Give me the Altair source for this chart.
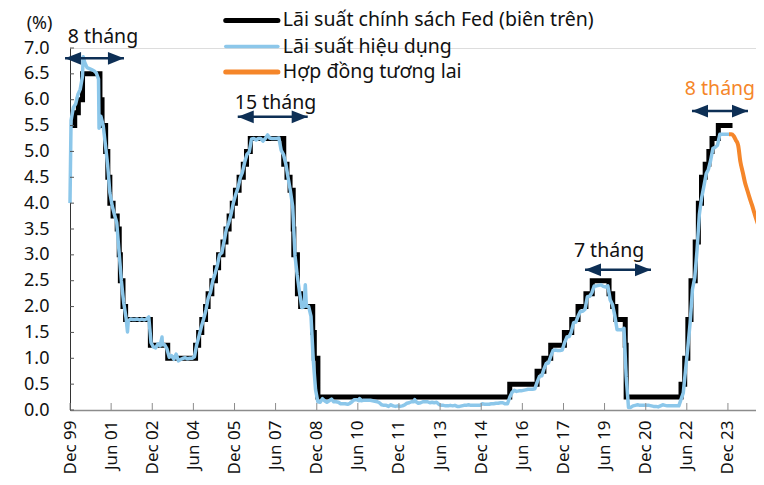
import altair as alt
import pandas as pd

SERIES = ["Lãi suất chính sách Fed (biên trên)", "Lãi suất hiệu dụng", "Hợp đồng tương lai"]
COLORS = ["#000000", "#8cc7ea", "#f5862a"]
NAVY = "#0d2f55"
FONT = "Noto Sans"

# Fed policy rate (upper bound) – change dates and new levels
policy_dates = [
    "1999-12-01", "2000-02-02", "2000-03-21", "2000-05-16", "2001-01-03", "2001-01-31",
    "2001-03-20", "2001-04-18", "2001-05-15", "2001-06-27", "2001-08-21", "2001-09-17",
    "2001-10-02", "2001-11-06", "2001-12-11", "2002-11-06", "2003-06-25", "2004-06-30",
    "2004-08-10", "2004-09-21", "2004-11-10", "2004-12-14", "2005-02-02", "2005-03-22",
    "2005-05-03", "2005-06-30", "2005-08-09", "2005-09-20", "2005-11-01", "2005-12-13",
    "2006-01-31", "2006-03-28", "2006-05-10", "2006-06-29", "2007-09-18", "2007-10-31",
    "2007-12-11", "2008-01-22", "2008-01-30", "2008-03-18", "2008-04-30", "2008-10-08",
    "2008-10-29", "2008-12-16", "2015-12-16", "2016-12-14", "2017-03-15", "2017-06-14",
    "2017-12-13", "2018-03-21", "2018-06-13", "2018-09-26", "2018-12-19", "2019-07-31",
    "2019-09-18", "2019-10-30", "2020-03-03", "2020-03-15", "2022-03-16", "2022-05-04",
    "2022-06-15", "2022-07-27", "2022-09-21", "2022-11-02", "2022-12-14", "2023-02-01",
    "2023-03-22", "2023-05-03", "2023-07-26", "2024-01-31",
]
policy_values = [
    5.50, 5.75, 6.00, 6.50, 6.00, 5.50,
    5.00, 4.50, 4.00, 3.75, 3.50, 3.00,
    2.50, 2.00, 1.75, 1.25, 1.00, 1.25,
    1.50, 1.75, 2.00, 2.25, 2.50, 2.75,
    3.00, 3.25, 3.50, 3.75, 4.00, 4.25,
    4.50, 4.75, 5.00, 5.25, 4.75, 4.50,
    4.25, 3.50, 3.00, 2.25, 2.00, 1.50,
    1.00, 0.25, 0.50, 0.75, 1.00, 1.25,
    1.50, 1.75, 2.00, 2.25, 2.50, 2.25,
    2.00, 1.75, 1.25, 0.25, 0.50, 1.00,
    1.75, 2.50, 3.25, 4.00, 4.50, 4.75,
    5.00, 5.25, 5.50, 5.50,
]

# Effective rate, monthly (mid-month) from Dec 1999 to Dec 2023
eff_first_month = "1999-12-01"
eff_monthly = [
    5.60,
    5.85, 5.92, 6.10, 6.20, 6.45, 6.72, 6.62, 6.60, 6.58, 6.56, 6.52, 6.40,
    5.68, 5.50, 5.15, 4.75, 4.20, 3.95, 3.78, 3.62, 3.05, 2.50, 2.08, 1.80,
    1.72, 1.76, 1.75, 1.75, 1.76, 1.74, 1.76, 1.74, 1.76, 1.80, 1.30, 1.22,
    1.20, 1.28, 1.24, 1.26, 1.26, 1.18, 1.02, 1.05, 0.98, 1.08, 0.95, 0.98,
    1.00, 1.01, 0.99, 1.00, 1.00, 1.03, 1.26, 1.43, 1.61, 1.76, 1.93, 2.16,
    2.28, 2.50, 2.63, 2.79, 3.00, 3.04, 3.26, 3.50, 3.62, 3.78, 4.00, 4.16,
    4.29, 4.49, 4.59, 4.79, 4.94, 4.99, 5.24, 5.25, 5.22, 5.25, 5.25, 5.20,
    5.25, 5.32, 5.26, 5.25, 5.25, 5.25, 5.26, 5.02, 4.94, 4.76, 4.49, 4.24,
    3.94, 2.98, 2.61, 2.28, 1.98, 2.00, 2.01, 2.00, 1.81, 0.97, 0.39, 0.16,
    0.15, 0.22, 0.18, 0.15, 0.18, 0.21, 0.16, 0.16, 0.15, 0.12, 0.12, 0.12,
    0.11, 0.13, 0.16, 0.20, 0.20, 0.18, 0.18, 0.19, 0.19, 0.19, 0.19, 0.18,
    0.17, 0.16, 0.14, 0.10, 0.09, 0.09, 0.07, 0.10, 0.08, 0.07, 0.08, 0.07,
    0.08, 0.10, 0.13, 0.14, 0.16, 0.16, 0.16, 0.13, 0.14, 0.16, 0.16, 0.16,
    0.14, 0.15, 0.14, 0.15, 0.11, 0.09, 0.09, 0.08, 0.08, 0.09, 0.08, 0.09,
    0.07, 0.07, 0.08, 0.09, 0.09, 0.10, 0.09, 0.09, 0.09, 0.09, 0.09, 0.12,
    0.11, 0.11, 0.11, 0.12, 0.12, 0.13, 0.13, 0.14, 0.14, 0.12, 0.12, 0.24,
    0.34, 0.38, 0.36, 0.37, 0.37, 0.38, 0.39, 0.40, 0.40, 0.40, 0.41, 0.54,
    0.65, 0.66, 0.79, 0.90, 0.91, 1.04, 1.15, 1.16, 1.15, 1.15, 1.16, 1.30,
    1.41, 1.42, 1.51, 1.69, 1.70, 1.82, 1.91, 1.91, 1.95, 2.19, 2.20, 2.27,
    2.40, 2.40, 2.41, 2.42, 2.39, 2.38, 2.40, 2.13, 2.04, 1.83, 1.55, 1.55,
    1.55, 1.58, 0.65, 0.05, 0.05, 0.08, 0.09, 0.10, 0.09, 0.09, 0.09, 0.09,
    0.09, 0.08, 0.07, 0.07, 0.06, 0.08, 0.10, 0.09, 0.08, 0.08, 0.08, 0.08,
    0.08, 0.08, 0.20, 0.33, 0.77, 1.21, 1.68, 2.33, 2.56, 3.08, 3.78, 4.10,
    4.33, 4.57, 4.65, 4.83, 5.06, 5.08, 5.12, 5.33, 5.33, 5.33, 5.33, 5.33,
]
# visible spikes / dips in the effective rate
eff_extra_dates = ["1999-12-01", "2000-05-25", "2000-12-22", "2002-01-05", "2003-04-10",
                   "2008-07-01", "2010-06-25", "2012-06-28"]
eff_extra_values = [4.00, 6.83, 5.45, 1.51, 1.41, 2.42, 0.22, 0.20]

# Futures-implied path
fut_dates = ["2023-12-15", "2024-01-15", "2024-02-15", "2024-03-15", "2024-04-15",
             "2024-05-15", "2024-06-15", "2024-07-15", "2024-08-15", "2024-09-15",
             "2024-10-15", "2024-11-15", "2024-12-15", "2025-01-15"]
fut_values = [5.33, 5.33, 5.30, 5.22, 5.12, 4.80, 4.60, 4.40, 4.25, 4.10, 3.97, 3.82, 3.68, 3.55]

# Axis ticks
x_tick_dates = ["1999-12-01", "2001-06-01", "2002-12-01", "2004-06-01", "2005-12-01",
                "2007-06-01", "2008-12-01", "2010-06-01", "2011-12-01", "2013-06-01",
                "2014-12-01", "2016-06-01", "2017-12-01", "2019-06-01", "2020-12-01",
                "2022-06-01", "2023-12-01"]
y_tick_values = [0.0, 0.5, 1.0, 1.5, 2.0, 2.5, 3.0, 3.5, 4.0, 4.5, 5.0, 5.5, 6.0, 6.5, 7.0]

# Annotations ("n tháng" double arrows)
arrow_start = ["1999-09-26", "2006-01-13", "2018-09-14", "2022-08-09"]
arrow_end = ["2001-11-19", "2008-08-02", "2021-02-09", "2024-08-24"]
arrow_level = [6.80, 5.67, 2.71, 5.78]
note_text = ["8 tháng", "15 tháng", "7 tháng", "8 tháng"]
note_date = ["2001-02-13", "2007-05-31", "2019-07-31", "2023-08-17"]
note_level = [7.21, 5.94, 3.07, 6.21]
note_color = ["#111111", "#111111", "#111111", "#f5862a"]

# Legend (drawn in the top area of the plot)
legend_level = [7.532, 7.029, 6.536]
legend_sym_start = "2005-08-06"
legend_sym_end = "2007-07-02"
legend_text_date = "2007-09-06"
legend_stroke = [5, 3.5, 5]

# ---------------------------------------------------------------- data frames
policy_df = pd.DataFrame({"date": pd.to_datetime(policy_dates), "value": policy_values,
                          "series": SERIES[0]})
eff_month_dates = pd.date_range(eff_first_month, periods=len(eff_monthly), freq="MS") + pd.Timedelta(days=14)
eff_df = pd.concat([
    pd.DataFrame({"date": eff_month_dates, "value": eff_monthly}),
    pd.DataFrame({"date": pd.to_datetime(eff_extra_dates), "value": eff_extra_values}),
]).sort_values("date").reset_index(drop=True)
eff_df["series"] = SERIES[1]
fut_df = pd.DataFrame({"date": pd.to_datetime(fut_dates), "value": fut_values, "series": SERIES[2]})

xt_df = pd.DataFrame({"date": pd.to_datetime(x_tick_dates)})
yt_df = pd.DataFrame({"value": y_tick_values})
arrow_df = pd.DataFrame({"date": pd.to_datetime(arrow_start), "date2": pd.to_datetime(arrow_end),
                         "value": arrow_level})
note_df = pd.DataFrame({"date": pd.to_datetime(note_date), "value": note_level,
                        "text": note_text, "col": note_color})
leg_df = pd.DataFrame({
    "date": pd.to_datetime([legend_sym_start] * 3),
    "date2": pd.to_datetime([legend_sym_end] * 3),
    "tdate": pd.to_datetime([legend_text_date] * 3),
    "value": legend_level, "text": SERIES, "col": COLORS, "sw": legend_stroke,
})

W, H = 686, 362

x_scale = alt.Scale(domain=[alt.DateTime(year=1999, month=12, date=1),
                            alt.DateTime(year=2024, month=12, date=9)])
y_scale = alt.Scale(domain=[0, 7])

x_axis = alt.Axis(
    values=[alt.DateTime(year=int(d[:4]), month=int(d[5:7]), date=1) for d in x_tick_dates],
    format="%b %y", labelAngle=-90, labelFont=FONT, labelFontSize=17, labelColor="#111111",
    ticks=False, labelPadding=10, domainColor="#8c8c8c", domainWidth=1.5, grid=False,
    labelOverlap=False, labelBound=False, labelFlush=False,
)
y_axis = alt.Axis(
    values=y_tick_values, format=".1f", labelFont=FONT, labelFontSize=18, labelColor="#111111",
    ticks=False, labelPadding=21, domainColor="#333333", domainWidth=1, grid=False,
    title="(%)", titleAngle=0, titleAlign="center", titleBaseline="middle",
    titleX=-31, titleY=-25, titleFont=FONT, titleFontSize=18, titleFontWeight="normal",
    titleColor="#111111",
)

X = alt.X("date:T", scale=x_scale, axis=x_axis, title=None)
Y = alt.Y("value:Q", scale=y_scale, axis=y_axis)

color = alt.Color("series:N", scale=alt.Scale(domain=SERIES, range=COLORS), legend=None)

policy_line = alt.Chart(policy_df).mark_line(interpolate="step-after", strokeWidth=5).encode(
    x=X, y=Y, color=color)
eff_line = alt.Chart(eff_df).mark_line(strokeWidth=3.5, strokeJoin="round").encode(
    x=X, y=Y, color=color)
fut_line = alt.Chart(fut_df).mark_line(strokeWidth=4, interpolate="monotone").encode(
    x=X, y=Y, color=color)

x_ticks = alt.Chart(xt_df).mark_rule(color="#8c8c8c", strokeWidth=1).encode(
    x=X, y=alt.value(H), y2=alt.value(H - 7))
y_ticks = alt.Chart(yt_df).mark_rule(color="#555555", strokeWidth=1).encode(
    y=Y, x=alt.value(0), x2=alt.value(4))

arrow_lines = alt.Chart(arrow_df).mark_rule(color=NAVY, strokeWidth=2.5).encode(
    x=X, x2="date2:T", y=Y)
head_left = alt.Chart(arrow_df).mark_point(
    shape="M0,0L2,-0.8L2,0.8Z", size=256, filled=True, color=NAVY, opacity=1, strokeWidth=0
).encode(x=X, y=Y)
head_right = alt.Chart(arrow_df).mark_point(
    shape="M0,0L-2,-0.8L-2,0.8Z", size=256, filled=True, color=NAVY, opacity=1, strokeWidth=0
).encode(x=alt.X("date2:T", scale=x_scale), y=Y)
notes = alt.Chart(note_df).mark_text(font=FONT, fontSize=19.5, baseline="middle", align="center").encode(
    x=X, y=Y, text="text:N", color=alt.Color("col:N", scale=None))

leg_sym = alt.Chart(leg_df).mark_rule(strokeCap="round").encode(
    x=X, x2="date2:T", y=Y,
    color=alt.Color("col:N", scale=None),
    strokeWidth=alt.StrokeWidth("sw:Q", scale=None),
)
leg_text = alt.Chart(leg_df).mark_text(font=FONT, fontSize=19.5, baseline="middle", align="left",
                                       color="#111111").encode(
    x=alt.X("tdate:T", scale=x_scale), y=Y, text="text:N")

chart = alt.layer(
    policy_line, eff_line, fut_line, x_ticks, y_ticks, arrow_lines, head_left, head_right,
    notes, leg_sym, leg_text
).properties(
    width=W, height=H,
    autosize=alt.AutoSizeParams(type="none"),
    padding={"left": 62, "top": 40, "right": 0, "bottom": 67},
).configure_view(stroke=None).configure(background="white")

chart.save("out.html", embed_options={"renderer": "svg", "actions": False})
